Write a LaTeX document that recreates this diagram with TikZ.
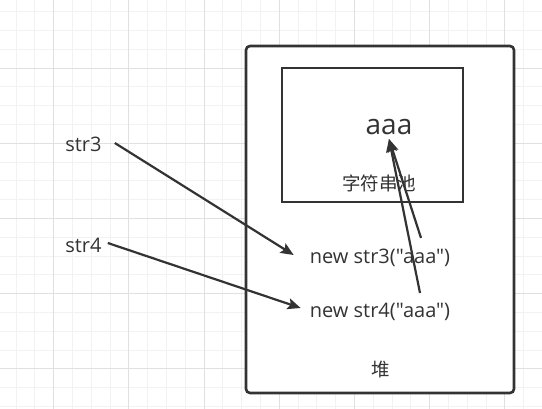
\documentclass[tikz,border=0pt]{standalone}
\usepackage{fontspec}
\setmainfont{Open Sans}[Ligatures=TeXOff]
\newfontfamily\cjk{Noto Sans CJK SC}
\usetikzlibrary{calc,arrows.meta}
\definecolor{ink}{HTML}{333333}
\definecolor{gridminor}{HTML}{F2F2F2}
\definecolor{gridmajor}{HTML}{E0E0E0}
\tikzset{
  minor/.style={draw=gridminor, line width=0.8pt},
  major/.style={draw=gridmajor, line width=0.8pt},
  box/.style={draw=ink, fill=white, line width=2.6pt, inner sep=0pt},
  link/.style={draw=ink, line width=2.2pt, -{Stealth[length=13pt, width=11pt, inset=2.5pt]}},
  lab/.style={text=ink, font=\fontsize{20}{24}\selectfont, inner sep=0pt},
  labbig/.style={text=ink, font=\fontsize{28}{32}\selectfont, inner sep=0pt},
  labc/.style={text=ink, font=\cjk\fontsize{18.5}{22}\selectfont, inner sep=0pt},
}

\begin{document}
\begin{tikzpicture}[x=1pt, y=-1pt]
  \useasboundingbox (0,0) rectangle (542,409);

  % grid
  \foreach \i in {0,...,28} \draw[minor] ({15.9+18.8*\i},0) -- ++(0,409);
  \foreach \j in {0,...,21} \draw[minor] (0,{11.6+18.8*\j}) -- ++(542,0);
  \foreach \i in {0,...,6} \draw[major] ({53.5+75.2*\i},0) -- ++(0,409);
  \foreach \j in {0,...,4} \draw[major] (0,{68+75.2*\j}) -- ++(542,0);

  % heap + pool
  \node[box, rounded corners=4pt, minimum width=268pt, minimum height=347pt] (heap) at (380,219.5) {};
  \node[box, minimum width=181pt, minimum height=134pt] (pool) at (372.5,135) {};

  % texts
  \node[labbig] (aaa) at (389,127) {aaa};
  \node[labc] (poollab) at (379,183.5) {字符串池};
  \node[lab] (new3) at (380,258) {new str3("aaa")};
  \node[lab] (new4) at (380,312) {new str4("aaa")};
  \node[labc] (heaplab) at (381,370) {堆};
  \node[lab] (str3) at (83.5,144.5) {str3};
  \node[lab] (str4) at (83.5,245) {str4};

  % references
  \draw[link] ($(str3.east)+(13,-1.5)$) -- ($(new3.west)+(-16,-3)$);
  \draw[link] ($(str4.east)+(6,-2)$) -- ($(new4.west)+(-9,-4)$);
  \draw[link] ($(new3.north)+(41,-11)$) -- ($(aaa.south)+(0,4)$);
  \draw[link] ($(new4.north)+(40,-10)$) -- ($(aaa.south)+(0,4)$);
\end{tikzpicture}
\end{document}
